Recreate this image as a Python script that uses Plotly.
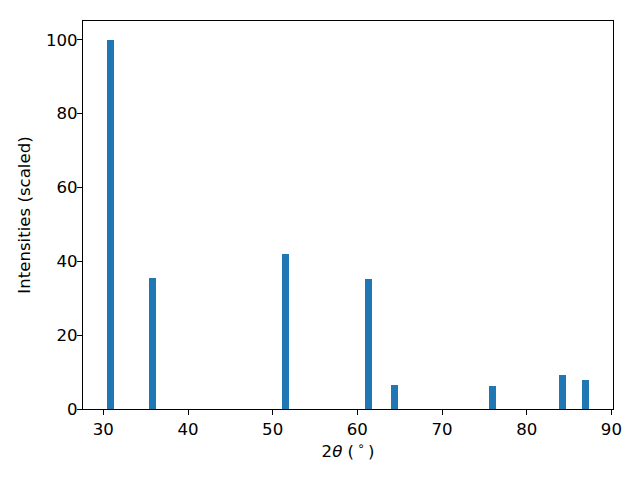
import plotly.graph_objects as go

two_theta = [30.85, 35.8, 51.5, 61.3, 64.4, 75.95, 84.2, 86.95]
intensity = [100.0, 35.5, 42.0, 35.2, 6.5, 6.2, 9.2, 7.9]
x_ticks = [30, 40, 50, 60, 70, 80, 90]
y_ticks = [0, 20, 40, 60, 80, 100]

fig = go.Figure()
fig.add_trace(go.Bar(x=two_theta, y=intensity, width=0.8,
                     marker=dict(color="#1f77b4", line=dict(width=0))))

font = dict(family="DejaVu Sans", size=16.6, color="black")
fig.update_layout(
    width=640, height=480,
    margin=dict(l=75, r=35, t=13, b=79, autoexpand=False),
    paper_bgcolor="white", plot_bgcolor="white",
    font=font, showlegend=False, bargap=0,
)
fig.update_xaxes(range=[27.6, 90.19], tickvals=x_ticks, ticks="outside", ticklen=5,
                 tickwidth=1, tickcolor="black", showline=True, linecolor="black",
                 linewidth=1, mirror=True, showgrid=False, zeroline=False, automargin=False,
                 title=dict(text="2<i>θ</i> (\u2009<sup>∘</sup>\u2009)", font=font, standoff=6))
fig.update_yaxes(range=[0, 105.1], tickvals=y_ticks, ticks="outside", ticklen=5,
                 tickwidth=1, tickcolor="black", showline=True, linecolor="black",
                 linewidth=1, mirror=True, showgrid=False, zeroline=False, automargin=False,
                 ticklabelstandoff=-4,
                 title=dict(text="Intensities (scaled)", font=font, standoff=11))

fig.write_html("out.html")
